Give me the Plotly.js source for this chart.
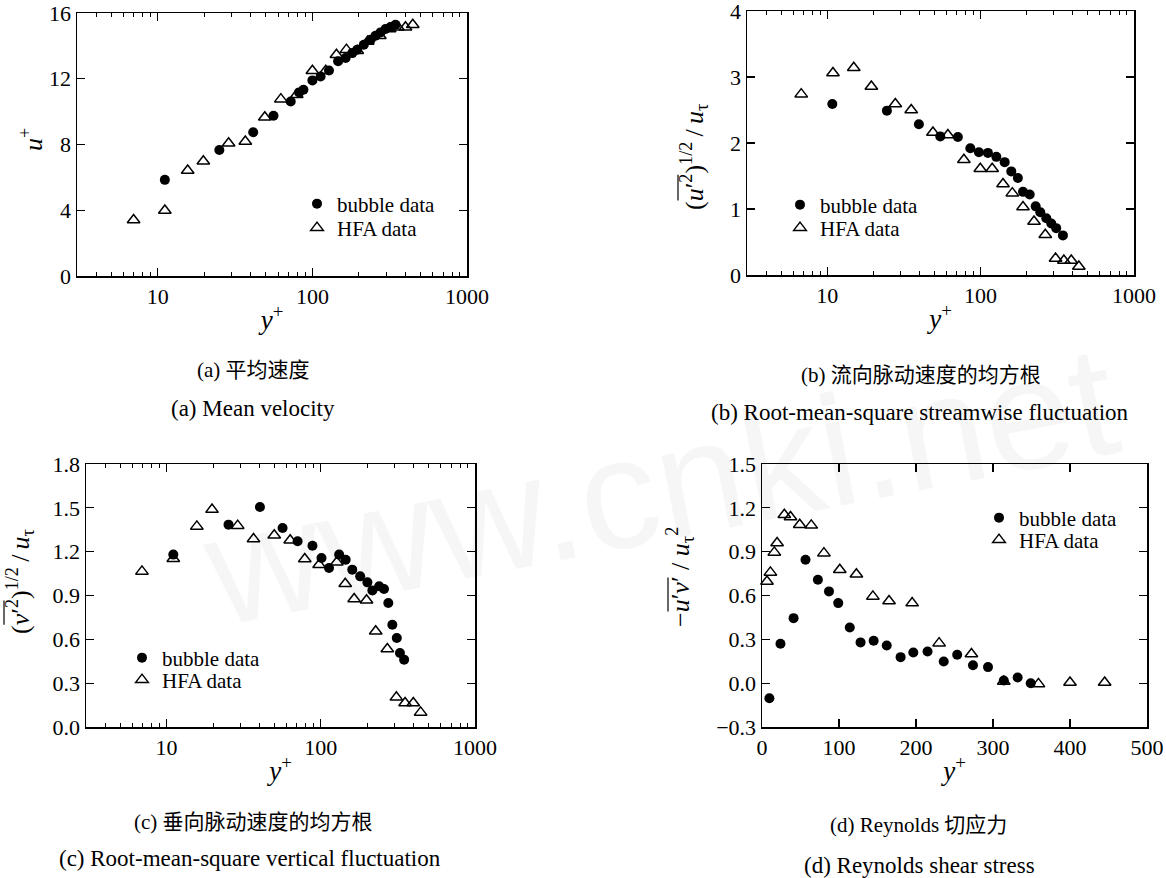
<!DOCTYPE html>
<html>
<head>
<meta charset="utf-8">
<script src="https://cdn.plot.ly/plotly-3.0.1.min.js"></script>
<style>html,body{margin:0;padding:0;background:#fff;}#chart{width:1166px;height:878px;}</style>
</head>
<body>
<div id="chart"></div>
<script>
// ---------- data ----------
// (a) mean velocity
const a_bubble_x = [11.1, 25.0, 41.4, 56.0, 72.4, 82, 87.5, 100, 113, 128, 146.6, 164, 181, 195, 215, 238, 256, 276, 297, 320, 345];
const a_bubble_y = [5.85, 7.67, 8.75, 9.75, 10.62, 11.17, 11.33, 11.9, 12.14, 12.5, 13.06, 13.26, 13.56, 13.77, 14.07, 14.38, 14.62, 14.82, 15.03, 15.15, 15.29];
const a_hfa_x = [6.97, 11.1, 15.6, 19.7, 28.7, 36.8, 49.2, 62.5, 79.2, 100, 122, 143, 166, 195, 228, 273, 316, 357, 400, 446];
const a_hfa_y = [3.41, 3.98, 6.42, 6.98, 8.08, 8.18, 9.66, 10.76, 11.03, 12.49, 12.49, 13.46, 13.77, 13.7, 14.27, 14.62, 15.03, 15.13, 15.13, 15.29];

// (b) rms streamwise fluctuation
const b_bubble_x = [10.8, 24.5, 39.6, 54.6, 71.1, 85.7, 97.5, 111.6, 126.6, 143.5, 158.5, 175, 189, 209, 228.6, 245, 268, 289, 311, 344];
const b_bubble_y = [2.59, 2.49, 2.285, 2.10, 2.09, 1.92, 1.86, 1.85, 1.79, 1.71, 1.57, 1.47, 1.26, 1.22, 1.04, 0.95, 0.86, 0.78, 0.71, 0.60];
const b_hfa_x = [6.77, 10.9, 14.9, 19.4, 27.8, 35.3, 48.9, 61.2, 77.8, 99.5, 119, 140, 161, 189, 223, 264, 308, 349, 390, 437];
const b_hfa_y = [2.74, 3.06, 3.14, 2.855, 2.59, 2.50, 2.16, 2.12, 1.745, 1.61, 1.61, 1.38, 1.24, 1.03, 0.81, 0.61, 0.25, 0.22, 0.22, 0.13];

// (c) rms vertical fluctuation
const c_bubble_x = [11.05, 25.2, 40.3, 56.5, 70.7, 88.3, 101, 113, 131.5, 145, 160, 180, 200.5, 216, 239, 257, 274, 291, 311, 326, 347];
const c_bubble_y = [1.18, 1.385, 1.506, 1.362, 1.271, 1.241, 1.157, 1.088, 1.18, 1.145, 1.077, 1.031, 0.99, 0.935, 0.963, 0.945, 0.849, 0.70, 0.609, 0.506, 0.461];
const c_hfa_x = [6.92, 11.05, 15.7, 19.7, 28.9, 36.6, 49.9, 63.3, 78.7, 97.5, 127, 144, 164.5, 198, 227, 270, 309, 352, 398, 444];
const c_hfa_y = [1.065, 1.152, 1.373, 1.488, 1.378, 1.287, 1.312, 1.278, 1.15, 1.111, 1.127, 0.981, 0.876, 0.867, 0.655, 0.534, 0.203, 0.164, 0.164, 0.10];

// (d) Reynolds shear stress
const d_bubble_x = [9.6, 24, 41, 56.5, 72.6, 87, 99, 114, 128, 145, 162, 180, 196.5, 215, 236, 253.5, 274, 293.5, 314, 332, 349];
const d_bubble_y = [-0.103, 0.27, 0.445, 0.845, 0.708, 0.628, 0.548, 0.381, 0.279, 0.29, 0.258, 0.178, 0.21, 0.217, 0.148, 0.194, 0.123, 0.11, 0.018, 0.039, 0.0];
const d_hfa_x = [6.5, 10.9, 16, 19.6, 29, 37, 49, 64, 80.4, 101, 122.6, 144, 165, 195, 230, 272, 314, 359, 400, 445];
const d_hfa_y = [0.696, 0.758, 0.895, 0.959, 1.153, 1.137, 1.084, 1.08, 0.89, 0.776, 0.746, 0.594, 0.562, 0.548, 0.274, 0.20, 0.011, -0.005, 0.005, 0.005];

const log_major_ticks = [10, 100, 1000];
const log_major_text = ['10', '100', '1000'];
const series_names = ['bubble data', 'HFA data'];
const captions_cn = ['(a) 平均速度', '(b) 流向脉动速度的均方根', '(c) 垂向脉动速度的均方根', '(d) Reynolds 切应力'];
const captions_en = ['(a) Mean velocity', '(b) Root-mean-square streamwise fluctuation', '(c) Root-mean-square vertical fluctuation', '(d) Reynolds shear stress'];

// ---------- layout helpers ----------
const W = 1166, H = 878;
const FAM = 'Liberation Serif';
const SERIF = 'Liberation Serif, Times New Roman, serif';
const px = v => v / W;
const py = v => 1 - v / H;

const minorLog = [];
[1, 10, 100].forEach(d => { for (let k = 2; k <= 9; k++) { if (k * d > 2.9) minorLog.push(k * d); } });

function baseAxis() {
  return {
    showline: true, linecolor: '#000', linewidth: 1.5, mirror: 'ticks',
    ticks: 'inside', ticklen: 8, tickwidth: 1.2, tickcolor: '#000',
    showgrid: false, zeroline: false, automargin: false, ticklabeloverflow: 'allow',
    tickfont: {family: SERIF, size: 22, color: '#000'}
  };
}
const xTitle = {text: '<i>y</i><sup>+</sup>', font: {family: SERIF, size: 27, color: '#000'}, standoff: 2};
function logX(dom, anchor) {
  return Object.assign(baseAxis(), {
    type: 'log', range: [Math.log10(3), 3], domain: dom, anchor: anchor,
    tickmode: 'array', tickvals: log_major_ticks, ticktext: log_major_text,
    minor: {tickmode: 'array', tickvals: minorLog, ticks: 'inside', ticklen: 4, tickwidth: 1, tickcolor: '#000'},
    title: xTitle
  });
}
function linY(dom, anchor, range, dtick, fmt) {
  const ax = Object.assign(baseAxis(), {domain: dom, anchor: anchor, range: range, dtick: dtick, tick0: 0});
  if (fmt) ax.tickformat = fmt;
  return ax;
}

const dom = {
  a: {x: [px(77), px(467)], y: [py(276), py(13)]},
  b: {x: [px(747), px(1134)], y: [py(275), py(11)]},
  c: {x: [px(86), px(475)], y: [py(727), py(464)]},
  d: {x: [px(762), px(1147)], y: [py(727), py(464)]}
};

const bubbleMarker = {symbol: 'circle', size: 10, color: '#000'};
const hfaMarker = {symbol: 'triangle-up-open', size: 11, color: '#000', line: {width: 1.5, color: '#000'}};

function tr(x, y, xa, ya, k, leg) {
  return {
    type: 'scatter', mode: 'markers', x: x, y: y, xaxis: xa, yaxis: ya,
    name: series_names[k], marker: k === 0 ? bubbleMarker : hfaMarker,
    legend: leg, showlegend: true, cliponaxis: false
  };
}

const data = [
  tr(a_bubble_x, a_bubble_y, 'x', 'y', 0, 'legend'),
  tr(a_hfa_x, a_hfa_y, 'x', 'y', 1, 'legend2'),
  tr(b_bubble_x, b_bubble_y, 'x2', 'y2', 0, 'legend3'),
  tr(b_hfa_x, b_hfa_y, 'x2', 'y2', 1, 'legend4'),
  tr(c_bubble_x, c_bubble_y, 'x3', 'y3', 0, 'legend5'),
  tr(c_hfa_x, c_hfa_y, 'x3', 'y3', 1, 'legend6'),
  tr(d_bubble_x, d_bubble_y, 'x4', 'y4', 0, 'legend7'),
  tr(d_hfa_x, d_hfa_y, 'x4', 'y4', 1, 'legend8')
];

function leg(xpx, ypx) {
  return {x: px(xpx), y: py(ypx), xanchor: 'left', yanchor: 'middle', xref: 'paper', yref: 'paper',
    bgcolor: 'rgba(0,0,0,0)', borderwidth: 0, font: {family: SERIF, size: 21, color: '#000'}};
}

const capFontCN = {family: 'Liberation Serif, Noto Sans CJK SC', size: 21, color: '#000'};
const capFontEN = {family: SERIF, size: 23, color: '#000'};
function cap(text, xpx, ypx, font) {
  return {text: text, x: px(xpx), y: py(ypx), xref: 'paper', yref: 'paper', xanchor: 'center', yanchor: 'middle', showarrow: false, font: font};
}

// ---- rotated y titles with an overline over part of them ----
const TS = 26; // title font size
const cv = document.createElement('canvas').getContext('2d');
function wOf(parts) {
  let w = 0;
  parts.forEach(p => { cv.font = (p[1] ? 'italic ' : '') + (TS * p[2]) + 'px "' + FAM + '"'; w += cv.measureText(p[0]).width; });
  return w;
}
const TH = '\u2009';
const yTitles = [
  {html: '<i>u</i><sup>+</sup>', pre: null, cx: 31, cy: 140},
  {html: '(<i>u</i>′<sup>2</sup>)<sup>1/2</sup>' + TH + '/' + TH + '<i>u</i><sub>τ</sub>',
   pre: [['(', 0, 1]], over: [['u', 1, 1], ['′', 0, 1], ['2', 0, 0.7]],
   post: [[')', 0, 1], ['1/2', 0, 0.7], [TH + '/' + TH, 0, 1], ['u', 1, 1], ['τ', 0, 0.7]], cx: 694, cy: 157, off: 16},
  {html: '(<i>v</i>′<sup>2</sup>)<sup>1/2</sup>' + TH + '/' + TH + '<i>u</i><sub>τ</sub>',
   pre: [['(', 0, 1]], over: [['v', 1, 1], ['′', 0, 1], ['2', 0, 0.7]],
   post: [[')', 0, 1], ['1/2', 0, 0.7], [TH + '/' + TH, 0, 1], ['u', 1, 1], ['τ', 0, 0.7]], cx: 20, cy: 582, off: 16},
  {html: '−<i>u</i>′<i>v</i>′ / <i>u</i><sub>τ</sub><sup>2</sup>',
   pre: [['−', 0, 1]], over: [['u', 1, 1], ['′', 0, 1], ['v', 1, 1], ['′', 0, 1]],
   post: [[' / ', 0, 1], ['u', 1, 1], ['τ', 0, 0.7], ['2', 0, 0.7]], cx: 680, cy: 577, off: 12}
];
const titleAnns = [], overShapes = [];
yTitles.forEach(t => {
  titleAnns.push({text: t.html, x: px(t.cx), y: py(t.cy), xref: 'paper', yref: 'paper', xanchor: 'center', yanchor: 'middle',
    textangle: -90, showarrow: false, font: {family: SERIF, size: TS, color: '#000'}});
  if (t.pre) {
    const wPre = wOf(t.pre), wOver = wOf(t.over), wPost = wOf(t.post);
    const total = wPre + wOver + wPost;
    const yStart = t.cy + total / 2;           // text starts at the bottom (reads upward)
    const y0 = yStart - wPre, y1 = yStart - wPre - wOver;
    const xl = t.cx - t.off;
    overShapes.push({type: 'line', xref: 'paper', yref: 'paper', x0: px(xl), x1: px(xl), y0: py(y0 - 1), y1: py(y1 + 1),
      line: {color: '#000', width: 1.2}});
  }
});

const layout = {
  width: W, height: H,
  margin: {l: 0, r: 0, t: 0, b: 0},
  paper_bgcolor: '#fff', plot_bgcolor: 'rgba(0,0,0,0)',
  showlegend: true,
  xaxis: logX(dom.a.x, 'y'),
  yaxis: linY(dom.a.y, 'x', [0, 16], 4, null),
  xaxis2: logX(dom.b.x, 'y2'),
  yaxis2: linY(dom.b.y, 'x2', [0, 4], 1, null),
  xaxis3: logX(dom.c.x, 'y3'),
  yaxis3: linY(dom.c.y, 'x3', [0, 1.8], 0.3, '.1f'),
  xaxis4: Object.assign(baseAxis(), {domain: dom.d.x, anchor: 'y4', range: [0, 500], dtick: 100, tick0: 0, title: xTitle}),
  yaxis4: linY(dom.d.y, 'x4', [-0.3, 1.5], 0.3, '.1f'),
  legend: leg(297, 204), legend2: leg(297, 228),
  legend3: leg(780, 205), legend4: leg(780, 228),
  legend5: leg(122, 658), legend6: leg(122, 680),
  legend7: leg(979, 518), legend8: leg(979, 540),
  shapes: overShapes,
  annotations: [
    {text: 'www.cnki.net', x: px(660), y: py(485), xref: 'paper', yref: 'paper', xanchor: 'center', yanchor: 'middle',
     showarrow: false, textangle: -11, font: {family: 'Liberation Sans, Arial, sans-serif', size: 158, color: 'rgba(0,0,0,0.035)'}},
    cap(captions_cn[0], 253, 370, capFontCN),
    cap(captions_en[0], 253, 408, capFontEN),
    cap(captions_cn[1], 921, 375, capFontCN),
    cap(captions_en[1], 920, 412, capFontEN),
    cap(captions_cn[2], 253, 822, capFontCN),
    cap(captions_en[2], 250, 858, capFontEN),
    cap(captions_cn[3], 918, 825, capFontCN),
    cap(captions_en[3], 919, 865, capFontEN)
  ].concat(titleAnns)
};

Plotly.newPlot('chart', data, layout, {staticPlot: true, displayModeBar: false});
</script>
</body>
</html>
